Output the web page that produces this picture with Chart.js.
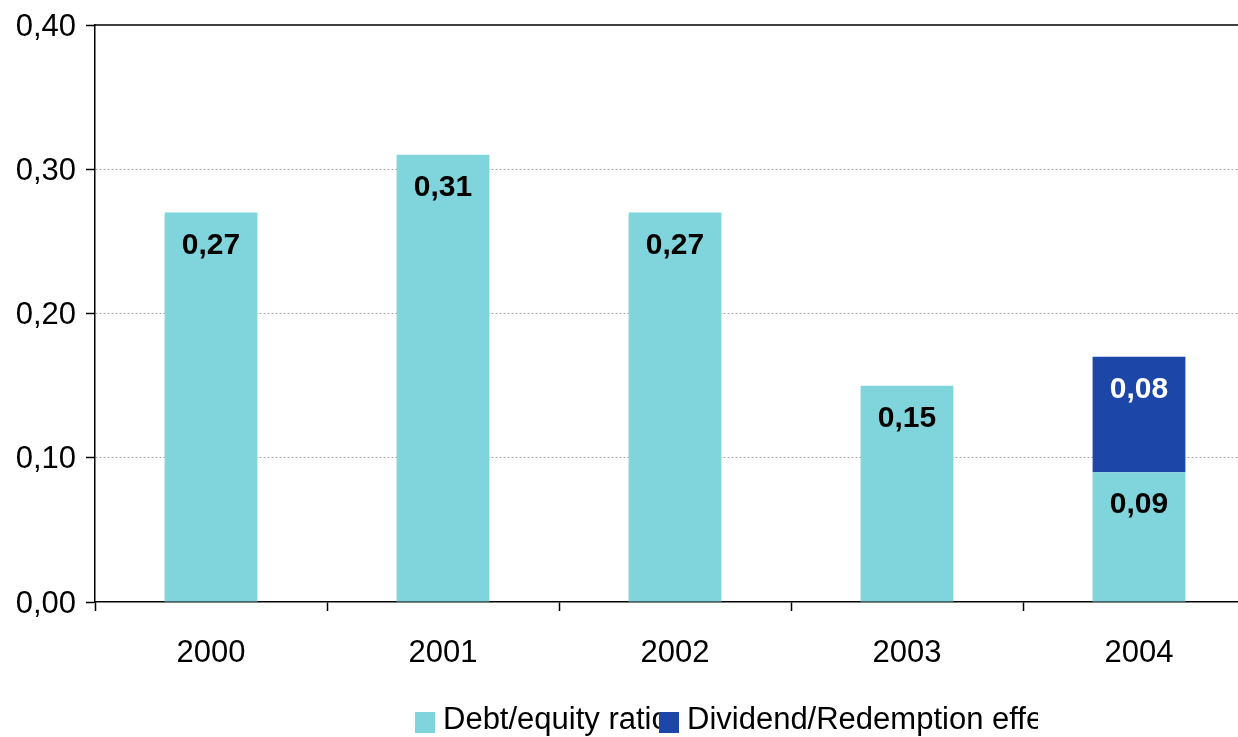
<!DOCTYPE html>
<html>
<head>
<meta charset="utf-8">
<title>Debt/equity ratio 2000–2004</title>
<script src="https://cdn.jsdelivr.net/npm/chart.js@4/dist/chart.umd.min.js"></script>
<style>
  html, body { margin: 0; padding: 0; background: #ffffff; overflow: hidden; }
  #wrap { width: 1238px; height: 737px; overflow: hidden; position: relative; }
  #box { width: 1262px; height: 737px; position: absolute; left: 0; top: 0; }
</style>
</head>
<body>
<div id="wrap"><div id="box"><canvas id="chart"></canvas></div></div>
<script>
// Years on the category axis
const years = ['2000', '2001', '2002', '2003', '2004'];
// Debt/equity ratio per year
const debtEquity = [0.27, 0.31, 0.27, 0.15, 0.09];
// Dividend/redemption effect stacked on 2004
const dividendEffect = [null, null, null, null, 0.08];
// Value axis ticks
const yTicks = [0, 0.1, 0.2, 0.3, 0.4];
const seriesNames = ['Debt/equity ratio', 'Dividend/Redemption effect'];

const LIGHT = '#80D5DC';
const DARK = '#1C47A8';
const FONT = '"Liberation Sans", Arial, Helvetica, sans-serif';

const fmt = v => v.toFixed(2).replace('.', ',');

// Value labels written inside the top of each bar
const barLabels = {
  id: 'barLabels',
  afterDatasetsDraw(chart) {
    const ctx = chart.ctx;
    ctx.save();
    ctx.font = 'bold 30px ' + FONT;
    ctx.textAlign = 'center';
    ctx.textBaseline = 'middle';
    chart.data.datasets.forEach((ds, di) => {
      const meta = chart.getDatasetMeta(di);
      meta.data.forEach((bar, i) => {
        const v = ds.data[i];
        if (v == null) return;
        ctx.fillStyle = ds.labelColor;
        ctx.fillText(fmt(v), bar.x, bar.y + 33);
      });
    });
    ctx.restore();
  }
};

// Solid top border of the plot area and the legend under the axis
const frameAndLegend = {
  id: 'frameAndLegend',
  afterDraw(chart) {
    const ctx = chart.ctx;
    const a = chart.chartArea;
    ctx.save();
    ctx.strokeStyle = '#000000';
    ctx.lineWidth = 1.5;
    ctx.beginPath();
    ctx.moveTo(a.left, a.top);
    ctx.lineTo(chart.width, a.top);
    ctx.stroke();

    // legend entries
    ctx.beginPath();
    ctx.rect(0, 690, 1038, 47);
    ctx.clip();
    ctx.font = '31px ' + FONT;
    ctx.textBaseline = 'alphabetic';
    ctx.textAlign = 'left';
    const items = [
      { x: 415, color: LIGHT, text: seriesNames[0] },
      { x: 659, color: DARK, text: seriesNames[1] }
    ];
    items.forEach(it => {
      ctx.fillStyle = it.color;
      ctx.fillRect(it.x, 712, 20, 21);
      ctx.fillStyle = '#000000';
      ctx.fillText(it.text, it.x + 28, 729);
    });
    ctx.restore();
  }
};

new Chart(document.getElementById('chart'), {
  type: 'bar',
  data: {
    labels: years,
    datasets: [
      { label: seriesNames[0], data: debtEquity, backgroundColor: LIGHT, labelColor: '#000000',
        categoryPercentage: 1.0, barPercentage: 0.4 },
      { label: seriesNames[1], data: dividendEffect, backgroundColor: DARK, labelColor: '#ffffff',
        categoryPercentage: 1.0, barPercentage: 0.4 }
    ]
  },
  options: {
    responsive: true,
    maintainAspectRatio: false,
    animation: false,
    layout: { padding: { top: 25, right: 7, left: 0, bottom: 0 } },
    plugins: {
      legend: { display: false },
      tooltip: { enabled: false }
    },
    scales: {
      x: {
        stacked: true,
        grid: {
          offset: true,
          drawOnChartArea: false,
          drawTicks: true,
          tickLength: 9,
          tickColor: '#000000',
          tickWidth: 1.5
        },
        border: { display: true, color: '#000000', width: 1.5 },
        ticks: { color: '#000000', font: { family: FONT, size: 31 }, padding: 24, maxRotation: 0 },
        afterFit(scale) { scale.height = 135; scale.paddingLeft = 0; scale.paddingRight = 0; }
      },
      y: {
        stacked: true,
        min: 0,
        max: 0.4,
        afterBuildTicks(scale) { scale.ticks = yTicks.map(v => ({ value: v })); },
        grid: {
          color: ctx => (ctx.tick && ctx.tick.value > 0 && ctx.tick.value < 0.4) ? '#a8a8a8' : 'rgba(0,0,0,0)',
          lineWidth: 1,
          drawTicks: true,
          tickLength: 9,
          tickColor: '#000000',
          tickWidth: 1.5
        },
        border: { display: true, color: '#000000', width: 1.5, dash: [2, 2] },
        ticks: {
          color: '#000000',
          font: { family: FONT, size: 31 },
          padding: 10,
          labelOffset: 2,
          callback: v => fmt(v)
        },
        afterFit(scale) { scale.width = 95; scale.paddingTop = 0; scale.paddingBottom = 0; }
      }
    }
  },
  plugins: [barLabels, frameAndLegend]
});
</script>
</body>
</html>
